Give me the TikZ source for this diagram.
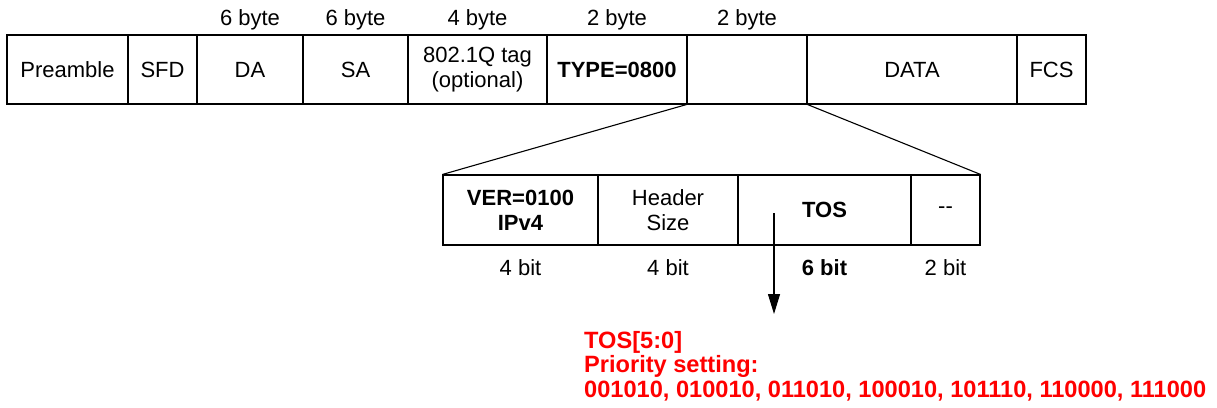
\documentclass[tikz,border=0pt]{standalone}
\usepackage{fontspec}
\setmainfont{Liberation Sans}
\usetikzlibrary{positioning,arrows.meta}

\tikzset{
 field/.style={draw, line width=1.1pt, inner sep=0pt, align=center, minimum height=69pt},
 sub/.style={draw, line width=1.1pt, inner sep=0pt, align=center, minimum height=70pt},
 lbl/.style={inner sep=0pt},
 note/.style={inner sep=0pt, align=left, text=red, font=\fontsize{23.6}{24.5}\selectfont\bfseries}
}

\begin{document}
\begin{tikzpicture}[x=1pt,y=-1pt,font=\fontsize{22}{25}\selectfont]
\useasboundingbox (0,0) rectangle (1217,407);

% ethernet frame
\node [field, minimum width=121pt] (pre) at (67.5,69.5) {Preamble};
\node [field, minimum width=69pt] (sfd) at (162.5,69.5) {SFD};
\node [field, minimum width=106pt] (da) at (250,69.5) {DA};
\node [field, minimum width=105pt] (sa) at (355.5,69.5) {SA};
\node [field, minimum width=139pt] (tag) at (477.5,69.5) {802.1Q tag\\(optional)};
\node [field, minimum width=140pt] (type) at (617,69.5) {\bfseries TYPE=0800};
\node [field, minimum width=120pt] (gap) at (747,69.5) {};
\node [field, minimum width=210pt] (data) at (912,69.5) {DATA};
\node [field, minimum width=69pt] (fcs) at (1051.5,69.5) {FCS};

\node [lbl, above=4pt of da] (dab) {6 byte};
\node [lbl, above=4pt of sa] (sab) {6 byte};
\node [lbl, above=4pt of tag] (tagb) {4 byte};
\node [lbl, above=4pt of type] (typeb) {2 byte};
\node [lbl, above=4pt of gap] (gapb) {2 byte};

% IPv4 header
\node [sub, minimum width=155pt] (ver) at (520.5,210) {\bfseries VER=0100\\\bfseries IPv4};
\node [sub, minimum width=140pt] (hsz) at (668,210) {Header\\Size};
\node [sub, minimum width=173pt] (tos) at (824.5,210) {\bfseries TOS};
\node [sub, minimum width=69pt] (dash) at (945.5,210) {-{}-};

\node [lbl, below=14pt of ver] (verb) {4 bit};
\node [lbl, below=14pt of hsz] (hszb) {4 bit};
\node [lbl, below=14pt of tos] (tosb) {\bfseries 6 bit};
\node [lbl, below=14pt of dash] (dashb) {2 bit};

\draw [line width=1.1pt] (gap.south west) -- (ver.north west);
\draw [line width=1.1pt] (gap.south east) -- (dash.north east);

\coordinate (tosmark) at (774,213);
\coordinate (tostip) at (774,314);
\draw [ -{Triangle[length=20pt,width=12pt]} , line width=1.1pt] (tosmark) -- (tostip);

\node [note, anchor=north west] (prio) at (584,331) {TOS[5:0]\\Priority setting:\\001010, 010010, 011010, 100010, 101110, 110000, 111000};

\end{tikzpicture}
\end{document}
